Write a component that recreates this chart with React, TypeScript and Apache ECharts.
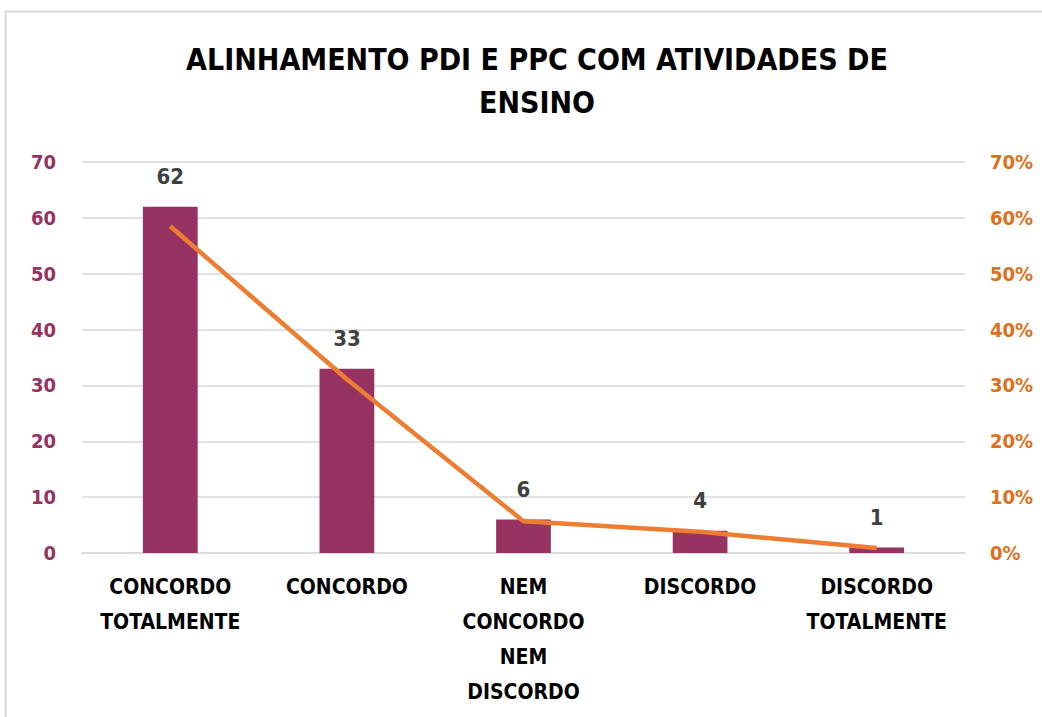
import React, { useEffect, useRef } from "react";
import * as echarts from "echarts";

const categories = [
  "CONCORDO\nTOTALMENTE",
  "CONCORDO",
  "NEM\nCONCORDO\nNEM\nDISCORDO",
  "DISCORDO",
  "DISCORDO\nTOTALMENTE",
];
const counts = [62, 33, 6, 4, 1];
const percents = [58.5, 31.1, 5.7, 3.8, 0.9];
const leftTicks = [0, 10, 20, 30, 40, 50, 60, 70];

const FONT = "'DejaVu Sans Condensed', 'DejaVu Sans', sans-serif";

export default function App() {
  const ref = useRef<HTMLDivElement>(null);
  useEffect(() => {
    if (!ref.current) return;
    const chart = echarts.init(ref.current, undefined, { renderer: "svg" });
    chart.setOption({
      animation: false,
      backgroundColor: "#ffffff",
      title: {
        text: "ALINHAMENTO PDI E PPC COM ATIVIDADES DE\nENSINO",
        left: 532,
        top: 33,
        textAlign: "center",
        textStyle: {
          fontFamily: FONT,
          fontWeight: "bold",
          fontSize: 30,
          lineHeight: 43,
          color: "#000000",
        },
      },
      graphic: [
        {
          type: "rect",
          shape: { x: 5.5, y: 11.5, width: 1050, height: 720 },
          style: { fill: "none", stroke: "#d9d9d9", lineWidth: 2 },
          silent: true,
        },
      ],
      grid: { left: 82, right: 77, top: 162, bottom: 164 },
      xAxis: {
        type: "category",
        data: categories,
        axisLine: { show: true, lineStyle: { color: "#d9d9d9", width: 1.5 } },
        axisTick: { show: false },
        axisLabel: {
          interval: 0,
          margin: 16,
          fontFamily: FONT,
          fontWeight: "bold",
          fontSize: 21,
          lineHeight: 35,
          color: "#000000",
        },
      },
      yAxis: [
        {
          type: "value",
          min: leftTicks[0],
          max: leftTicks[leftTicks.length - 1],
          interval: 10,
          axisLine: { show: false },
          axisTick: { show: false },
          splitLine: { lineStyle: { color: "#d9d9d9", width: 1.5 } },
          axisLabel: {
            margin: 26,
            fontFamily: FONT,
            fontWeight: "bold",
            fontSize: 20,
            color: "#963363",
          },
        },
        {
          type: "value",
          min: 0,
          max: 70,
          interval: 10,
          axisLine: { show: false },
          axisTick: { show: false },
          splitLine: { show: false },
          axisLabel: {
            margin: 25,
            fontFamily: FONT,
            fontWeight: "bold",
            fontSize: 20,
            color: "#e07020",
            formatter: "{value}%",
          },
        },
      ],
      series: [
        {
          type: "bar",
          data: counts,
          barWidth: "31%",
          itemStyle: { color: "#963363" },
          label: {
            show: true,
            position: "top",
            distance: 19,
            fontFamily: FONT,
            fontSize: 22,
            fontWeight: "bold",
            color: "#404040",
          },
        },
        {
          type: "line",
          yAxisIndex: 1,
          data: percents,
          symbol: "none",
          lineStyle: { color: "#ed7d31", width: 4.5 },
          z: 5,
        },
      ],
    });
    return () => chart.dispose();
  }, []);
  return (
    <div
      ref={ref}
      style={{ position: "fixed", left: 0, top: 0, width: 1042, height: 717 }}
    />
  );
}
